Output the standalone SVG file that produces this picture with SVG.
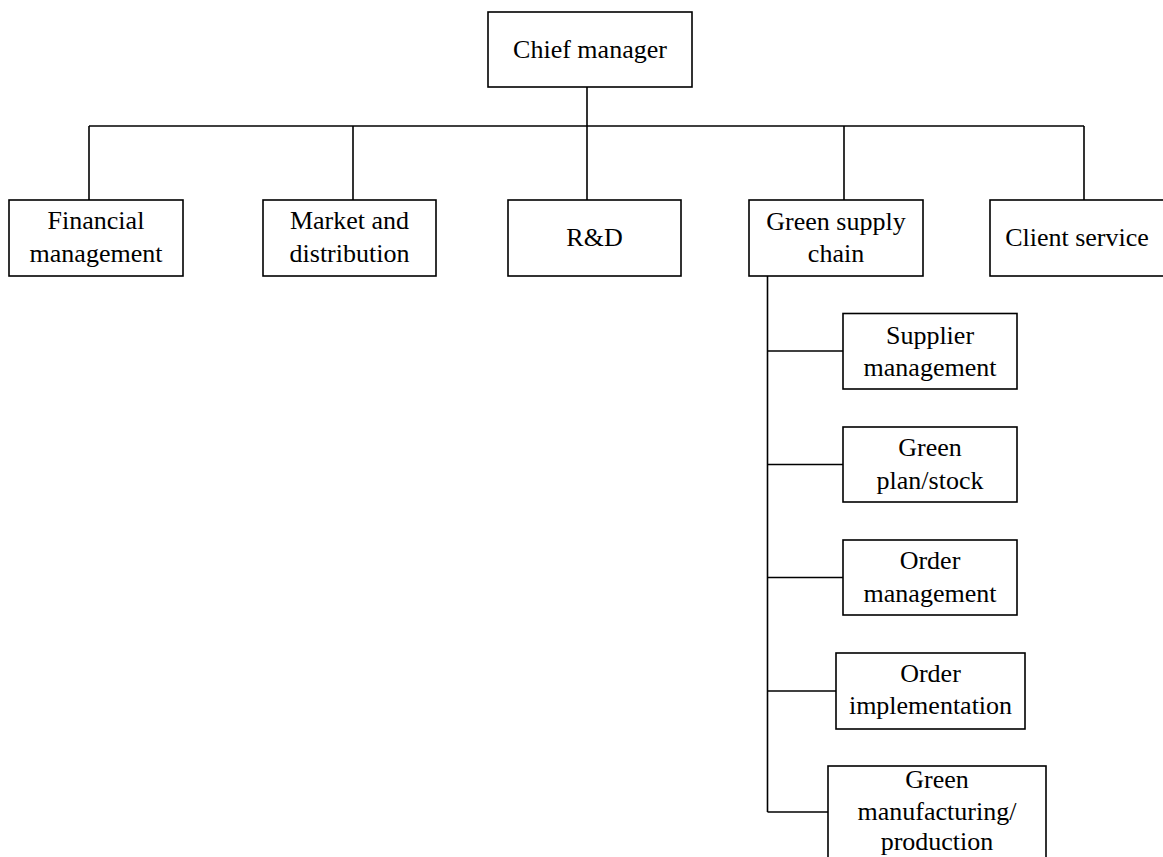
<svg xmlns="http://www.w3.org/2000/svg" width="1163" height="857" viewBox="0 0 1163 857">
<style>
rect{fill:#fff;stroke:#000;stroke-width:1.6}
.c line{stroke:#000;stroke-width:1.6}
</style>
<rect width="1163" height="857" style="stroke:none"/>
<g class="c" id="connectors">
<line x1="587" y1="87" x2="587" y2="126"/>
<line x1="89" y1="126" x2="1084" y2="126"/>
<line x1="89" y1="126" x2="89" y2="200"/>
<line x1="353" y1="126" x2="353" y2="200"/>
<line x1="587" y1="126" x2="587" y2="200"/>
<line x1="844" y1="126" x2="844" y2="200"/>
<line x1="1084" y1="126" x2="1084" y2="200"/>
<line x1="767.5" y1="276" x2="767.5" y2="812"/>
<line x1="767.5" y1="351" x2="843" y2="351"/>
<line x1="767.5" y1="464.5" x2="843" y2="464.5"/>
<line x1="767.5" y1="577.5" x2="843" y2="577.5"/>
<line x1="767.5" y1="691" x2="836" y2="691"/>
<line x1="767.5" y1="812" x2="828" y2="812"/>
</g>
<g font-family="Liberation Serif, Times New Roman, DejaVu Serif, serif" font-size="26" text-anchor="middle" fill="#000">
<g id="chief"><rect x="488" y="12" width="204" height="75"/><text x="590" y="58">Chief manager</text></g>
<g id="financial"><rect x="9" y="200" width="174" height="76"/><text x="96" y="229">Financial</text><text x="96" y="262">management</text></g>
<g id="market"><rect x="263" y="200" width="173" height="76"/><text x="349.5" y="229">Market and</text><text x="349.5" y="262">distribution</text></g>
<g id="rd"><rect x="508" y="200" width="173" height="76"/><text x="594.5" y="246">R&amp;D</text></g>
<g id="gsc"><rect x="749" y="200" width="174" height="76"/><text x="836" y="230">Green supply</text><text x="836" y="262">chain</text></g>
<g id="client"><rect x="990" y="200" width="176" height="76"/><text x="1077" y="246">Client service</text></g>
<g id="supplier"><rect x="843" y="313.5" width="174" height="75.5"/><text x="930" y="344">Supplier</text><text x="930" y="376">management</text></g>
<g id="plan"><rect x="843" y="427" width="174" height="75"/><text x="930" y="456">Green</text><text x="930" y="489">plan/stock</text></g>
<g id="ordermgmt"><rect x="843" y="540" width="174" height="75"/><text x="930" y="569">Order</text><text x="930" y="602">management</text></g>
<g id="orderimpl"><rect x="836" y="653" width="189" height="76"/><text x="930.5" y="682">Order</text><text x="930.5" y="714">implementation</text></g>
<g id="manufacturing"><rect x="828" y="766" width="218" height="100"/><text x="937" y="788">Green</text><text x="937" y="820">manufacturing/</text><text x="937" y="850">production</text></g>
</g>
</svg>
